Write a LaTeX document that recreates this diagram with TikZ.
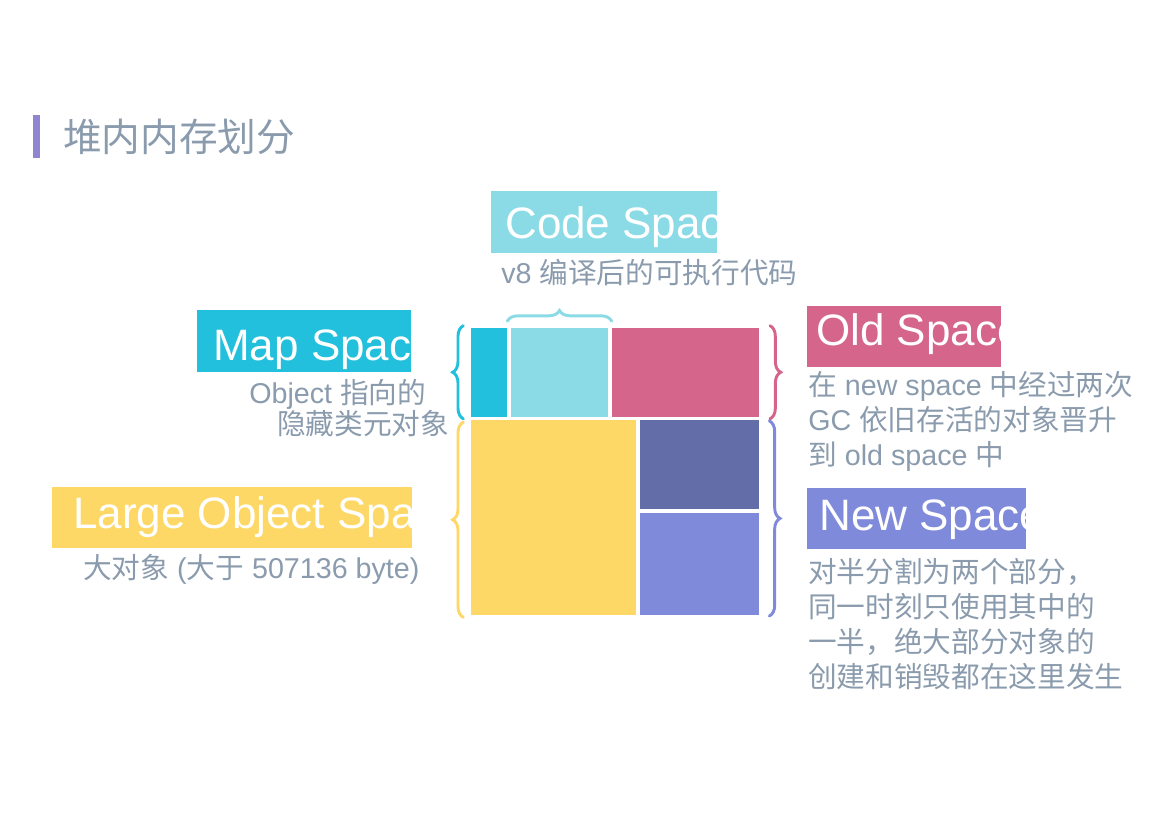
\documentclass[tikz,border=0pt]{standalone}
\usepackage{fontspec}
\setmainfont{Liberation Sans}
\newfontfamily\zhfont{Noto Sans CJK SC}
\newcommand{\zh}[1]{{\zhfont #1}}
\usetikzlibrary{fit, decorations.pathreplacing}

\definecolor{mapc}{RGB}{34,192,220}
\definecolor{codec}{RGB}{139,219,230}
\definecolor{oldc}{RGB}{213,101,138}
\definecolor{largec}{RGB}{253,216,103}
\definecolor{darkc}{RGB}{99,110,169}
\definecolor{newc}{RGB}{127,139,218}
\definecolor{barc}{RGB}{143,133,208}
\definecolor{descc}{RGB}{138,155,173}

\tikzset{
  blk/.style={inner sep=0pt, draw=white, line width=2.5pt},
  lblbox/.style={inner sep=0pt},
  lbltext/.style={anchor=base west, inner sep=0pt, text=white, font=\fontsize{33}{38}\selectfont},
  desc/.style={inner sep=0pt, text=descc, align=left, font=\fontsize{21.5}{26.3}\selectfont},
  curly/.style={decorate, decoration={brace, amplitude=8pt}, line width=2.2pt, line cap=round}
}

\begin{document}
\begin{tikzpicture}[x=0.75pt, y=-0.75pt]
\useasboundingbox (0,0) rectangle (1169,826);

% title
\fill[barc] (33,115) rectangle (40,158);
\node[anchor=west, inner sep=0pt, text=descc, font=\fontsize{29}{34}\selectfont] (title) at (63,137) {\zh{堆内内存划分}};

% heap blocks
\node[blk, fill=mapc, fit={(469,326) (509,418.5)}] (mapblk) {};
\node[blk, fill=codec, fit={(509,326) (610,418.5)}] (codeblk) {};
\node[blk, fill=oldc, fit={(610,326) (761,418.5)}] (oldblk) {};
\node[blk, fill=largec, fit={(469,418.5) (638,617)}] (largeblk) {};
\node[blk, fill=darkc, fit={(638,418.5) (761,511)}] (darkblk) {};
\node[blk, fill=newc, fit={(638,511) (761,617)}] (newblk) {};

% braces
\draw[curly, mapc] ([xshift=-3pt, yshift=1pt]mapblk.south west) -- ([xshift=-3pt, yshift=-1pt]mapblk.north west);
\draw[curly, codec] ([yshift=2.4pt]codeblk.north west) -- ([yshift=2.4pt]codeblk.north east);
\draw[curly, oldc] ([xshift=5.5pt, yshift=-1pt]oldblk.north east) -- ([xshift=5.5pt, yshift=1pt]oldblk.south east);
\draw[curly, largec] ([xshift=-3pt, yshift=1pt]largeblk.south west) -- ([xshift=-3pt, yshift=-4pt]largeblk.north west);
\draw[curly, newc] ([xshift=5pt, yshift=-3pt]darkblk.north east) -- ([xshift=5pt, yshift=2pt]newblk.south east);

% labels
\node[lblbox, fill=codec, fit={(491,191) (717,253)}] (codelbl) {};
\begin{scope}
  \clip (codelbl.south west) rectangle (codelbl.north east);
  \node[lbltext] (codetxt) at (505,238) {Code Space};
\end{scope}
\node[desc, anchor=west] (codedesc) at (501,273) {v8 \zh{编译后的可执行代码}};

\node[lblbox, fill=mapc, fit={(197,310) (411,372)}] (maplbl) {};
\begin{scope}
  \clip (maplbl.south west) rectangle (maplbl.north east);
  \node[lbltext] (maptxt) at (213,360) {Map Space};
\end{scope}
\node[desc, anchor=west] (mapdesc1) at (249,394) {Object \zh{指向的}};
\node[desc, anchor=west] (mapdesc2) at (277,424) {\zh{隐藏类元对象}};

\node[lblbox, fill=largec, fit={(52,487) (412,548)}] (largelbl) {};
\begin{scope}
  \clip (largelbl.south west) rectangle (largelbl.north east);
  \node[lbltext] (largetxt) at (73,528) {Large Object Space};
\end{scope}
\node[desc, anchor=west] (largedesc) at (83,569) {\zh{大对象} (\zh{大于} 507136 byte)};

\node[lblbox, fill=oldc, fit={(807,306) (1001,367)}] (oldlbl) {};
\begin{scope}
  \clip (oldlbl.south west) rectangle (oldlbl.north east);
  \node[lbltext] (oldtxt) at (816,345) {Old Space};
\end{scope}
\node[desc, anchor=north west] (olddesc) at (808,371) {\zh{在} new space \zh{中经过两次}\\GC \zh{依旧存活的对象晋升}\\\zh{到} old space \zh{中}};

\node[lblbox, fill=newc, fit={(807,488) (1026,549)}] (newlbl) {};
\begin{scope}
  \clip (newlbl.south west) rectangle (newlbl.north east);
  \node[lbltext] (newtxt) at (819,530) {New Space};
\end{scope}
\node[desc, anchor=north west] (newdesc) at (808,558) {\zh{对半分割为两个部分，}\\\zh{同一时刻只使用其中的}\\\zh{一半，绝大部分对象的}\\\zh{创建和销毁都在这里发生}};
\end{tikzpicture}
\end{document}
